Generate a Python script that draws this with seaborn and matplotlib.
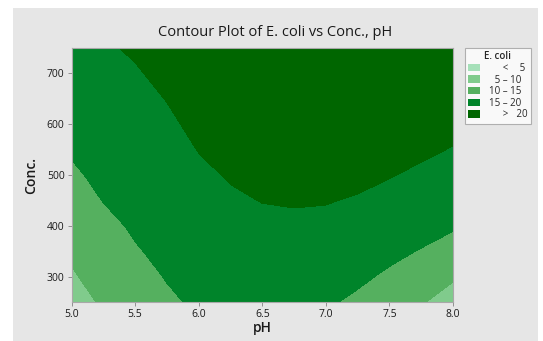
import numpy as np
import pandas as pd
import matplotlib
matplotlib.use("Agg")
import matplotlib.pyplot as plt
import seaborn as sns
from matplotlib.patches import Patch, Rectangle

# ---- data ----
ph = [5.0, 5.25, 5.5, 5.75, 6.0, 6.25, 6.5, 6.75, 7.0, 7.25, 7.5, 7.75, 8.0]
conc = [250, 300, 350, 400, 450, 500, 550, 600, 650, 700, 750]

# E. coli estimated at each pH (columns), listed from Conc = 250 up to 750
ecoli_ph500 = [8.0, 9.5, 10.7, 12.0, 13.2, 14.4, 15.4, 16.3, 17.1, 18.0, 18.9]
ecoli_ph525 = [10.6, 11.8, 12.9, 14.0, 15.1, 15.9, 16.6, 17.3, 18.1, 18.8, 19.6]
ecoli_ph550 = [12.7, 13.7, 14.7, 15.5, 16.2, 16.9, 17.6, 18.3, 19.0, 19.7, 20.4]
ecoli_ph575 = [14.4, 15.2, 15.9, 16.6, 17.3, 18.0, 18.7, 19.4, 20.1, 20.8, 21.5]
ecoli_ph600 = [15.6, 16.3, 17.1, 17.8, 18.6, 19.3, 20.1, 20.8, 21.6, 22.3, 23.1]
ecoli_ph625 = [16.3, 17.1, 17.9, 18.7, 19.5, 20.3, 21.1, 21.9, 22.7, 23.5, 24.3]
ecoli_ph650 = [16.5, 17.4, 18.3, 19.2, 20.1, 21.0, 21.9, 22.8, 23.7, 24.6, 25.5]
ecoli_ph675 = [16.2, 17.3, 18.3, 19.3, 20.3, 21.3, 22.3, 23.3, 24.3, 25.3, 26.3]
ecoli_ph700 = [15.5, 16.7, 17.9, 19.1, 20.2, 21.3, 22.4, 23.5, 24.6, 25.7, 26.8]
ecoli_ph725 = [14.3, 15.7, 17.0, 18.4, 19.7, 20.9, 22.1, 23.3, 24.5, 25.7, 26.9]
ecoli_ph750 = [12.6, 14.4, 15.9, 17.3, 18.8, 20.2, 21.5, 22.8, 24.1, 25.4, 26.7]
ecoli_ph775 = [10.4, 12.6, 14.8, 16.4, 17.8, 19.3, 20.7, 22.1, 23.4, 24.8, 26.1]
ecoli_ph800 = [7.8, 10.6, 13.2, 15.5, 16.9, 18.4, 19.8, 21.2, 22.5, 23.9, 25.2]

levels = [0, 5, 10, 15, 20, 40]
legend_labels = ["\u2007\u2007 <\u2007\u20075", "\u20075 \u2013 10", "10 \u2013 15",
                 "15 \u2013 20", "\u2007\u2007 >\u2007 20"]
colors = ["#a6e0b9", "#80cb8c", "#55b05f", "#00842a", "#006600"]

columns = [ecoli_ph500, ecoli_ph525, ecoli_ph550, ecoli_ph575, ecoli_ph600,
           ecoli_ph625, ecoli_ph650, ecoli_ph675, ecoli_ph700, ecoli_ph725,
           ecoli_ph750, ecoli_ph775, ecoli_ph800]
df = pd.DataFrame(np.array(columns).T, index=conc, columns=ph)

# ---- style ----
sns.set_theme(style="white")
plt.rcParams["font.family"] = ["Open Sans", "DejaVu Sans"]

W, H = 543, 341
fig = plt.figure(figsize=(W / 100, H / 100), dpi=100, facecolor="white")
fig.patches.append(Rectangle((13 / W, 0), (538 - 13) / W, (H - 8) / H,
                             transform=fig.transFigure, facecolor="#e6e6e6",
                             edgecolor="none", zorder=-10))

ax = fig.add_axes([71.5 / W, (H - 302) / H, (453 - 71.5) / W, (302 - 48) / H])
X, Y = np.meshgrid(df.columns.values, df.index.values)
ax.contourf(X, Y, df.values, levels=levels, colors=colors)

ax.set_xlim(5.0, 8.0)
ax.set_ylim(250, 750)
ax.set_xticks([5.0, 5.5, 6.0, 6.5, 7.0, 7.5, 8.0])
ax.set_xticklabels([f"{v:.1f}" for v in [5.0, 5.5, 6.0, 6.5, 7.0, 7.5, 8.0]])
ax.set_yticks([300, 400, 500, 600, 700])
ax.tick_params(axis="both", labelsize=7.5, length=3, width=0.7, color="#909090",
               pad=2, labelcolor="#1a1a1a", bottom=True, left=True)
for s in ax.spines.values():
    s.set_color("#a8a8a8")
    s.set_linewidth(0.8)

ax.set_xlabel("pH", fontsize=10, color="#1a1a1a", labelpad=1, fontweight="semibold")
ax.set_ylabel("Conc.", fontsize=10, color="#1a1a1a", labelpad=6, fontweight="semibold")
fig.text(275.5 / W, 1 - 33 / H, "Contour Plot of E. coli vs Conc., pH",
         ha="center", va="center", fontsize=10.5, color="#1a1a1a")

handles = [Patch(facecolor=c, edgecolor="none") for c in colors]
leg = fig.legend(handles, legend_labels, title="E. coli", loc="upper left",
                 bbox_to_anchor=(465 / W, 1 - 48 / H), borderaxespad=0,
                 fontsize=7, title_fontproperties={"size": 7, "weight": "semibold"},
                 frameon=True, fancybox=False,
                 handlelength=1.2, handleheight=0.8, handletextpad=0.9,
                 labelspacing=0.06, borderpad=0.35)
leg.get_frame().set_edgecolor("#a0a0a0")
leg.get_frame().set_linewidth(0.8)
leg.get_frame().set_facecolor("white")

fig.savefig("out.png", dpi=100, facecolor=fig.get_facecolor())
